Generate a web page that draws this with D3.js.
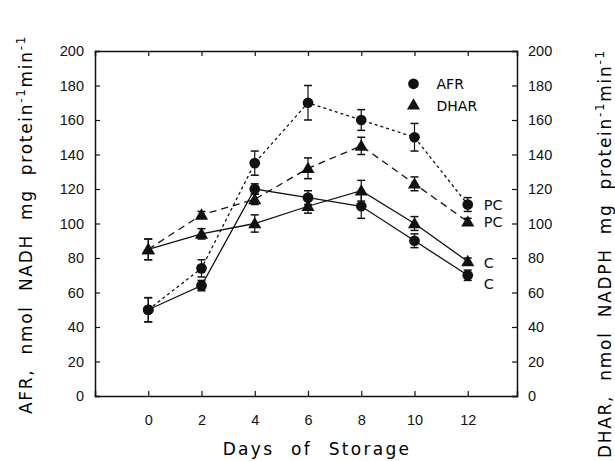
<!DOCTYPE html>
<html>
<head>
<meta charset="utf-8">
<script src="https://cdn.jsdelivr.net/npm/d3@7"></script>
<style>
  body { margin: 0; background: #fff; }
  svg { font-family: "DejaVu Sans", sans-serif; }
  .tick text { font-size: 14.5px; fill: #111; }
</style>
</head>
<body>
<svg width="615" height="461"></svg>
<script>
  // DATA
  var days = [0, 2, 4, 6, 8, 10, 12];
  var afrPC = [50, 74, 135, 170, 160, 150, 111];
  var afrPCerr = [7, 5, 7, 10, 6, 8, 4];
  var afrC = [50, 64, 120, 115, 110, 90, 70];
  var afrCerr = [7, 3, 3, 4, 7, 4, 3];
  var dharPC = [85, 105, 114, 132, 145, 123, 101];
  var dharPCerr = [6, 2, 3, 6, 5, 4, 2];
  var dharC = [85, 94, 100, 110, 119, 100, 78];
  var dharCerr = [6, 3, 5, 4, 6, 4, 2];
  var xTicks = [0, 2, 4, 6, 8, 10, 12];
  var yTicks = [0, 20, 40, 60, 80, 100, 120, 140, 160, 180, 200];

  // SETUP
  var svg = d3.select("svg"),
    margin = { top: 51, right: 98, bottom: 65, left: 95 },
    width = 615 - margin.left - margin.right,
    height = 461 - margin.top - margin.bottom;

  var x = d3.scaleLinear().domain([-2, 13.85]).range([0, width]),
    y = d3.scaleLinear().domain([0, 200]).range([height, 0]);

  var g = svg.append("g")
    .attr("transform", "translate(" + margin.left + "," + margin.top + ")");

  // axes, ticks pointing inward
  g.append("g")
    .attr("transform", "translate(0," + height + ")")
    .call(d3.axisBottom(x).tickValues(xTicks).tickSize(-5).tickPadding(19).tickFormat(d3.format("d")));
  g.append("g")
    .call(d3.axisTop(x).tickValues(xTicks).tickSize(-5).tickFormat(""));
  g.append("g")
    .call(d3.axisLeft(y).tickValues(yTicks).tickSize(-5).tickPadding(11));
  g.append("g")
    .attr("transform", "translate(" + width + ",0)")
    .call(d3.axisRight(y).tickValues(yTicks).tickSize(-5).tickPadding(11));

  g.selectAll(".domain").attr("stroke", "#111").attr("stroke-width", 1.5);
  g.selectAll(".tick line").attr("stroke", "#111").attr("stroke-width", 1.2);

  var series = [
    { vals: afrPC, err: afrPCerr, marker: "circle", dash: "3,3" },
    { vals: dharPC, err: dharPCerr, marker: "triangle", dash: "7,5" },
    { vals: afrC, err: afrCerr, marker: "circle", dash: null },
    { vals: dharC, err: dharCerr, marker: "triangle", dash: null }
  ];

  var line = d3.line()
    .x(function(d, i) { return x(days[i]); })
    .y(function(d) { return y(d); });

  var circle = d3.symbol().type(d3.symbolCircle).size(90);
  var tri = d3.symbol().type(d3.symbolTriangle).size(75);

  series.forEach(function(s) {
    g.append("path")
      .datum(s.vals)
      .attr("fill", "none")
      .attr("stroke", "#111")
      .attr("stroke-width", 1.3)
      .attr("stroke-dasharray", s.dash)
      .attr("d", line);

    var eb = g.selectAll(null)
      .data(s.vals)
      .enter().append("g")
      .attr("transform", function(d, i) { return "translate(" + x(days[i]) + ",0)"; });

    eb.append("line")
      .attr("y1", function(d, i) { return y(d - s.err[i]); })
      .attr("y2", function(d, i) { return y(d + s.err[i]); })
      .attr("stroke", "#111").attr("stroke-width", 1.2);
    eb.append("line")
      .attr("x1", -4).attr("x2", 4)
      .attr("y1", function(d, i) { return y(d + s.err[i]); })
      .attr("y2", function(d, i) { return y(d + s.err[i]); })
      .attr("stroke", "#111").attr("stroke-width", 1.5);
    eb.append("line")
      .attr("x1", -4).attr("x2", 4)
      .attr("y1", function(d, i) { return y(d - s.err[i]); })
      .attr("y2", function(d, i) { return y(d - s.err[i]); })
      .attr("stroke", "#111").attr("stroke-width", 1.5);

    eb.append("path")
      .attr("transform", function(d) { return "translate(0," + (y(d) + (s.marker == "triangle" ? 1 : 0)) + ")"; })
      .attr("d", s.marker == "circle" ? circle : tri)
      .attr("fill", "#111");
  });

  // end labels
  var endLabels = [
    { text: "PC", v: afrPC[6] },
    { text: "PC", v: dharPC[6] },
    { text: "C", v: dharC[6] - 1 },
    { text: "C", v: afrC[6] - 5 }
  ];
  g.selectAll(".endlab")
    .data(endLabels)
    .enter().append("text")
    .attr("x", x(12) + 16)
    .attr("y", function(d) { return y(d.v); })
    .attr("dy", "0.36em")
    .attr("font-size", 14.5)
    .attr("fill", "#111")
    .text(function(d) { return d.text; });

  // legend
  var leg = g.append("g").attr("transform", "translate(" + (x(10) - 1) + "," + y(181) + ")");
  leg.append("path").attr("d", circle).attr("fill", "#111");
  leg.append("text").attr("x", 23).attr("dy", "0.36em").attr("font-size", 14).text("AFR");
  leg.append("path").attr("transform", "translate(0,22)").attr("d", tri).attr("fill", "#111");
  leg.append("text").attr("x", 23).attr("y", 22).attr("dy", "0.36em").attr("font-size", 14).text("DHAR");

  // axis titles
  svg.append("text")
    .attr("x", 317)
    .attr("y", 455)
    .attr("text-anchor", "middle")
    .attr("font-size", 17)
    .attr("letter-spacing", "2.3px")
    .attr("word-spacing", "9px")
    .text("Days of Storage");

  var yl = svg.append("text")
    .attr("transform", "translate(32,414) rotate(-90)")
    .attr("font-size", 17)
    .attr("letter-spacing", "1.7px")
    .attr("word-spacing", "7px");
  yl.append("tspan").text("AFR, nmol NADH mg protein");
  yl.append("tspan").attr("dy", -7).attr("font-size", 12).text("-1");
  yl.append("tspan").attr("dy", 7).text("min");
  yl.append("tspan").attr("dy", -7).attr("font-size", 12).text("-1");

  var yr = svg.append("text")
    .attr("transform", "translate(611,458) rotate(-90)")
    .attr("font-size", 17)
    .attr("letter-spacing", "1.7px")
    .attr("word-spacing", "7px");
  yr.append("tspan").text("DHAR, nmol NADPH mg protein");
  yr.append("tspan").attr("dy", -7).attr("font-size", 12).text("-1");
  yr.append("tspan").attr("dy", 7).text("min");
  yr.append("tspan").attr("dy", -7).attr("font-size", 12).text("-1");
</script>
</body>
</html>
